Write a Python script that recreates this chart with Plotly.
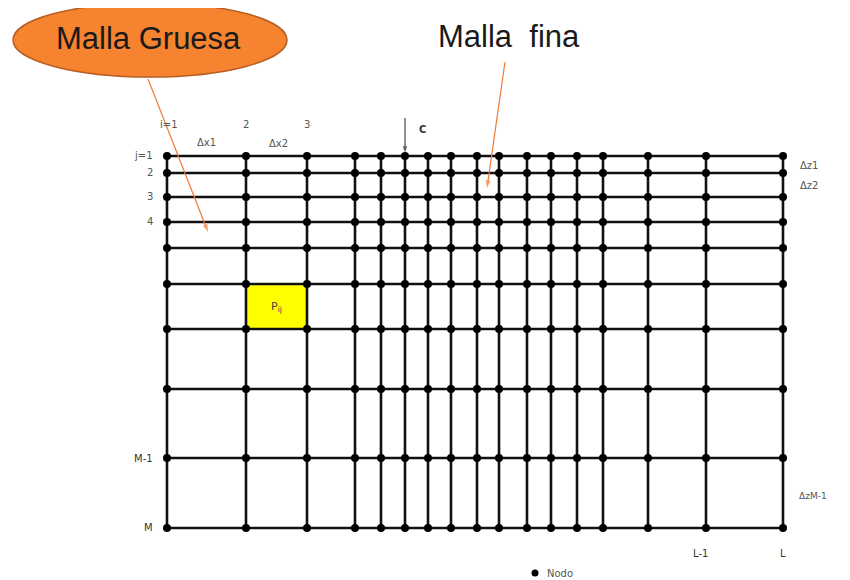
import plotly.graph_objects as go

# Grid geometry (pixel-like coordinates)
x_lines = [167, 246, 307, 355, 381, 405, 428, 451, 477, 499, 527, 551, 577, 603, 648, 706, 783]
y_lines = [156, 173, 197, 222, 248, 284, 329, 389, 458, 528]

# Labels
col_labels = ["i=1", "2", "3"]
row_labels = ["j=1", "2", "3", "4"]
dx_labels = ["Δx1", "Δx2"]
dz_labels = ["Δz1", "Δz2", "ΔzM-1"]
bottom_labels = ["L-1", "L"]
left_bottom_labels = ["M-1", "M"]

fig = go.Figure()

# Yellow cell P_ij (between columns 2-3 and rows 6-7)
fig.add_shape(type="rect", x0=x_lines[1], x1=x_lines[2], y0=y_lines[5], y1=y_lines[6],
              fillcolor="#FFFF00", line=dict(width=0), layer="below")

# Horizontal lines
hx, hy = [], []
for y in y_lines:
    hx += [x_lines[0], x_lines[-1], None]
    hy += [y, y, None]
fig.add_trace(go.Scatter(x=hx, y=hy, mode="lines", line=dict(color="#111111", width=2.6),
                         hoverinfo="skip", showlegend=False))
# Vertical lines
vx, vy = [], []
for x in x_lines:
    vx += [x, x, None]
    vy += [y_lines[0], y_lines[-1], None]
fig.add_trace(go.Scatter(x=vx, y=vy, mode="lines", line=dict(color="#111111", width=2.6),
                         hoverinfo="skip", showlegend=False))
# Nodes
nx = [x for y in y_lines for x in x_lines]
ny = [y for y in y_lines for x in x_lines]
fig.add_trace(go.Scatter(x=nx, y=ny, mode="markers", marker=dict(color="#000000", size=8),
                         hoverinfo="skip", showlegend=False))
# Legend node
fig.add_trace(go.Scatter(x=[535], y=[573], mode="markers", marker=dict(color="#000000", size=7),
                         hoverinfo="skip", showlegend=False))


def arrow(x0, y0, x1, y1, color, width, size):
    fig.add_trace(go.Scatter(
        x=[x0, x1], y=[y0, y1], mode="lines+markers",
        line=dict(color=color, width=width),
        marker=dict(symbol=["circle", "arrow"], size=[0, size], color=color,
                    angleref="previous", line=dict(width=0)),
        hoverinfo="skip", showlegend=False))


ann = []
small = dict(family="DejaVu Sans, Verdana, sans-serif", size=10, color="#555555")
dark = dict(family="DejaVu Sans, Verdana, sans-serif", size=10, color="#333333")


def lab(x, y, t, font=small, **kw):
    ann.append(dict(x=x, y=y, text=t, showarrow=False, font=font, xref="x", yref="y", **kw))


for i, t in enumerate(col_labels):
    lab(x_lines[i] + (2 if i == 0 else 0), 124, t)
lab((x_lines[0] + x_lines[1]) / 2, 142, dx_labels[0])
lab((x_lines[1] + x_lines[2]) / 2 + 2, 143, dx_labels[1])
for j, t in enumerate(row_labels):
    lab(x_lines[0] - 12, y_lines[j] - 1, t, xanchor="right")
lab(x_lines[0] - 12, y_lines[-2], left_bottom_labels[0], font=dark, xanchor="right")
lab(x_lines[0] - 12, y_lines[-1] - 1, left_bottom_labels[1], font=dark, xanchor="right")
lab(x_lines[-2] - 6, 553, bottom_labels[0], font=dark)
lab(x_lines[-1], 553, bottom_labels[1], font=dark)
lab(798, (y_lines[0] + y_lines[1]) / 2 + 1, dz_labels[0], xanchor="left")
lab(798, (y_lines[1] + y_lines[2]) / 2, dz_labels[1], xanchor="left")
lab(797, (y_lines[-2] + y_lines[-1]) / 2 + 3, dz_labels[2],
    font=dict(family="DejaVu Sans", size=9, color="#555555"), xanchor="left")
lab(422, 129, "<b>C</b>", font=dark)
lab((x_lines[1] + x_lines[2]) / 2, (y_lines[5] + y_lines[6]) / 2,
    "P<sub>ij</sub>", font=dict(family="DejaVu Sans", size=11, color="#444444"))
lab(545, 573, "Nodo", font=dict(family="DejaVu Sans", size=10, color="#555555"), xanchor="left")

# C arrow
arrow(x_lines[5], 118, x_lines[5], y_lines[0] - 3, "#222222", 1, 7)

# Malla Gruesa ellipse
fig.add_shape(type="circle", x0=13, x1=287, y0=3, y1=77, fillcolor="#F5832F",
              line=dict(color="#B85E24", width=1.5), layer="above")
lab(148, 38, "Malla Gruesa", font=dict(family="Liberation Sans, Arial", size=31, color="#1a1a1a"))
arrow(148, 79, 208, 232, "#F07A35", 1.2, 8)
# Malla fina
lab(509, 36, "Malla  fina", font=dict(family="Liberation Sans, Arial", size=31, color="#1a1a1a"))
arrow(505, 62, 487, 188, "#F07A35", 1.2, 8)

# The page adds an 8px body margin; map data coordinates straight to page pixels.
fig.update_layout(
    width=842, height=572, margin=dict(l=0, r=0, t=0, b=0),
    paper_bgcolor="white", plot_bgcolor="white",
    xaxis=dict(range=[8, 850], visible=False, fixedrange=True),
    yaxis=dict(range=[580, 8], visible=False, fixedrange=True),
    annotations=ann, showlegend=False,
)
fig.write_html("out.html")
